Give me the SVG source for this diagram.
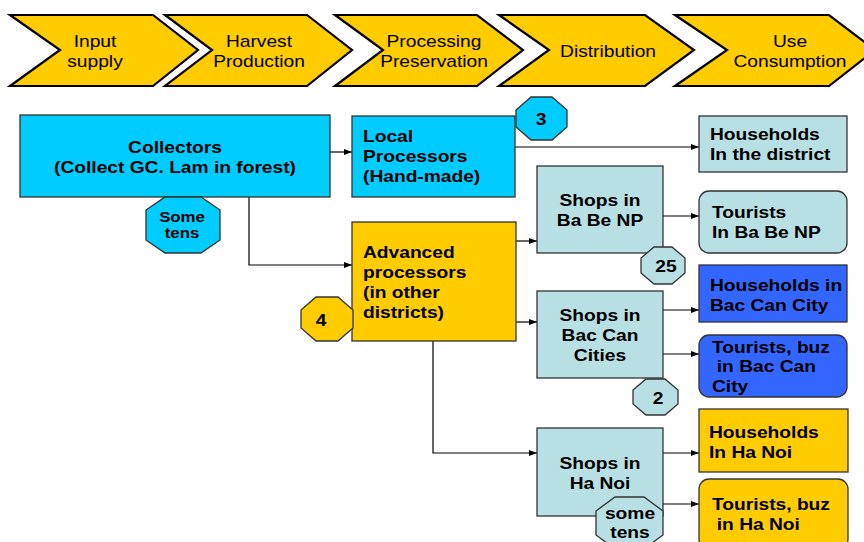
<svg xmlns="http://www.w3.org/2000/svg" width="864" height="542" viewBox="0 0 864 542">
<defs>
<marker id="ah" markerWidth="8" markerHeight="6" refX="8" refY="3" orient="auto" markerUnits="userSpaceOnUse">
<path d="M0,0 L8,3 L0,6 Z" fill="#000"/>
</marker>
<style>
.chev{fill:#FFCC00;stroke:#000;stroke-width:2.2;stroke-linejoin:miter}
.ct{font-family:"Liberation Sans",Arial,sans-serif;font-size:16px;fill:#000;text-anchor:middle}
.bx{stroke:#333;stroke-width:1.3}
.cyan{fill:#00CCFF}
.lb{fill:#B8DFE3}
.yel{fill:#FFCC00}
.blu{fill:#3366FF}
.t{font-family:"Liberation Sans",Arial,sans-serif;font-size:16px;font-weight:bold;fill:#000}
.m{text-anchor:middle}
.s14{font-size:14px}
.cn{fill:none;stroke:#000;stroke-width:1.2}
</style>
</defs>
<rect width="864" height="542" fill="#fff"/>

<g id="chevrons">
<g id="chev-input"><polygon class="chev" points="10,15 153,15 198,50 153,86 10,86 60,50"/>
<text class="ct" transform="translate(95 47) scale(1.2 1)"><tspan x="0">Input</tspan><tspan x="0" dy="20">supply</tspan></text></g>
<g id="chev-harvest"><polygon class="chev" points="165,15 307,15 352,50 307,86 165,86 212,50"/>
<text class="ct" transform="translate(259 47) scale(1.2 1)"><tspan x="0">Harvest</tspan><tspan x="0" dy="20">Production</tspan></text></g>
<g id="chev-processing"><polygon class="chev" points="335,15 477,15 523,50 477,86 335,86 383,50"/>
<text class="ct" transform="translate(434 47) scale(1.2 1)"><tspan x="0">Processing</tspan><tspan x="0" dy="20">Preservation</tspan></text></g>
<g id="chev-distribution"><polygon class="chev" points="499,15 645,15 694,50 645,86 499,86 549,50"/>
<text class="ct" transform="translate(608 57) scale(1.2 1)">Distribution</text></g>
<g id="chev-use"><polygon class="chev" points="675,15 829,15 875,50 829,86 675,86 727,50"/>
<text class="ct" transform="translate(790 47) scale(1.2 1)"><tspan x="0">Use</tspan><tspan x="0" dy="20">Consumption</tspan></text></g>
</g>

<g id="connectors">
<line class="cn" x1="330" y1="152" x2="352" y2="152" marker-end="url(#ah)"/>
<polyline class="cn" points="249,197 249,265 352,265" marker-end="url(#ah)"/>
<line class="cn" x1="515" y1="147" x2="699" y2="147" marker-end="url(#ah)"/>
<line class="cn" x1="516" y1="241" x2="537" y2="241" marker-end="url(#ah)"/>
<line class="cn" x1="516" y1="322" x2="537" y2="322" marker-end="url(#ah)"/>
<polyline class="cn" points="433,341 433,453 537,453" marker-end="url(#ah)"/>
<line class="cn" x1="663" y1="216" x2="699" y2="216" marker-end="url(#ah)"/>
<line class="cn" x1="663" y1="310" x2="699" y2="310" marker-end="url(#ah)"/>
<line class="cn" x1="663" y1="354" x2="699" y2="354" marker-end="url(#ah)"/>
<line class="cn" x1="663" y1="453" x2="699" y2="453" marker-end="url(#ah)"/>
<line class="cn" x1="663" y1="504" x2="699" y2="504" marker-end="url(#ah)"/>
</g>

<g id="collectors">
<rect class="bx cyan" x="20" y="115" width="310" height="82"/>
<text class="t m" transform="translate(175 153) scale(1.2 1)"><tspan x="0">Collectors</tspan><tspan x="0" dy="20">(Collect GC. Lam in forest)</tspan></text>
</g>
<g id="badge-some-tens">
<polygon class="bx cyan" points="165,197 201,197 220,210 220,240 201,253 165,253 146,240 146,210"/>
<text class="t m s14" transform="translate(182 222) scale(1.2 1)"><tspan x="0">Some</tspan><tspan x="0" dy="16">tens</tspan></text>
</g>

<g id="local-processors">
<rect class="bx cyan" x="352" y="116" width="163" height="81"/>
<text class="t" transform="translate(363 142) scale(1.2 1)"><tspan x="0">Local</tspan><tspan x="0" dy="20">Processors</tspan><tspan x="0" dy="20">(Hand-made)</tspan></text>
</g>
<g id="badge-3">
<polygon class="bx cyan" points="531,97 552,97 567,110 567,127 552,140 531,140 516,127 516,110"/>
<text class="t m" transform="translate(541 125) scale(1.2 1)">3</text>
</g>

<g id="advanced-processors">
<rect class="bx yel" x="352" y="222" width="164" height="119"/>
<text class="t" transform="translate(363 258) scale(1.2 1)"><tspan x="0">Advanced</tspan><tspan x="0" dy="20">processors</tspan><tspan x="0" dy="20">(in other</tspan><tspan x="0" dy="20">districts)</tspan></text>
</g>
<g id="badge-4">
<polygon class="bx yel" points="316,297 338,297 353,310 353,328 338,341 316,341 301,328 301,310"/>
<text class="t m" transform="translate(321 326) scale(1.2 1)">4</text>
</g>

<g id="shops-babe">
<rect class="bx lb" x="537" y="166" width="126" height="87"/>
<text class="t m" transform="translate(600 206) scale(1.2 1)"><tspan x="0">Shops in</tspan><tspan x="0" dy="20">Ba Be NP</tspan></text>
</g>
<g id="badge-25">
<polygon class="bx lb" points="654,247 672,247 685,258 685,273 672,284 654,284 641,273 641,258"/>
<text class="t m" transform="translate(666 272) scale(1.2 1)">25</text>
</g>

<g id="shops-baccan">
<rect class="bx lb" x="537" y="291" width="126" height="87"/>
<text class="t m" transform="translate(600 321) scale(1.2 1)"><tspan x="0">Shops in</tspan><tspan x="0" dy="20">Bac Can</tspan><tspan x="0" dy="20">Cities</tspan></text>
</g>
<g id="badge-2">
<polygon class="bx lb" points="646,379 665,379 678,390 678,404 665,415 646,415 633,404 633,390"/>
<text class="t m" transform="translate(658 404) scale(1.2 1)">2</text>
</g>

<g id="shops-hanoi">
<rect class="bx lb" x="537" y="428" width="126" height="88"/>
<text class="t m" transform="translate(600 469) scale(1.2 1)"><tspan x="0">Shops in</tspan><tspan x="0" dy="20">Ha Noi</tspan></text>
</g>
<g id="badge-some-tens-hanoi">
<polygon class="bx lb" points="615,497 644,497 663,511 663,535 644,549 615,549 596,535 596,511"/>
<text class="t m" transform="translate(630 519) scale(1.2 1)"><tspan x="0">some</tspan><tspan x="0" dy="19">tens</tspan></text>
</g>

<g id="households-district">
<rect class="bx lb" x="699" y="116" width="148" height="56"/>
<text class="t" transform="translate(710 140) scale(1.2 1)"><tspan x="0">Households</tspan><tspan x="0" dy="20">In the district</tspan></text>
</g>
<g id="tourists-babe">
<rect class="bx lb" x="699" y="191" width="148" height="62" rx="10" ry="10"/>
<text class="t" transform="translate(712 218) scale(1.2 1)"><tspan x="0">Tourists</tspan><tspan x="0" dy="20">In Ba Be NP</tspan></text>
</g>
<g id="households-baccan">
<rect class="bx blu" x="699" y="265" width="148" height="57"/>
<text class="t" transform="translate(710 291) scale(1.2 1)"><tspan x="0">Households in</tspan><tspan x="0" dy="20">Bac Can City</tspan></text>
</g>
<g id="tourists-baccan">
<rect class="bx blu" x="699" y="335" width="148" height="62" rx="10" ry="10"/>
<text class="t" transform="translate(712 353) scale(1.2 1)"><tspan x="0">Tourists, buz</tspan><tspan x="4" dy="19.5">in Bac Can</tspan><tspan x="0" dy="19.5">City</tspan></text>
</g>
<g id="households-hanoi">
<rect class="bx yel" x="699" y="409" width="149" height="63"/>
<text class="t" transform="translate(709 438) scale(1.2 1)"><tspan x="0">Households</tspan><tspan x="0" dy="20">In Ha Noi</tspan></text>
</g>
<g id="tourists-hanoi">
<rect class="bx yel" x="699" y="479" width="149" height="70" rx="10" ry="10"/>
<text class="t" transform="translate(712 510) scale(1.2 1)"><tspan x="0">Tourists, buz</tspan><tspan x="4" dy="20">in Ha Noi</tspan></text>
</g>
</svg>
